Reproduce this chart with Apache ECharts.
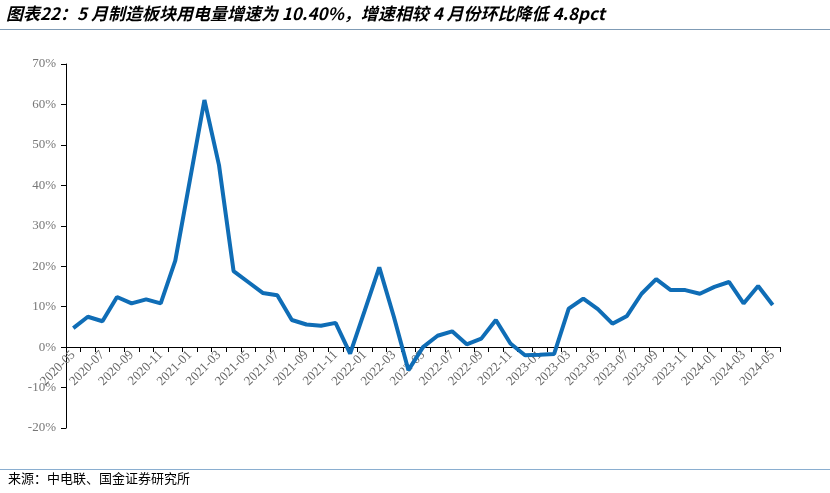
<!DOCTYPE html>
<html><head><meta charset="utf-8">
<script src="https://cdn.jsdelivr.net/npm/echarts@6/dist/echarts.min.js"></script>
<style>html,body{margin:0;padding:0;background:#fff}#c{width:830px;height:493px}</style>
</head><body><div id="c"></div>
<script>
const categories = [];
for (let y = 2020; y <= 2024; y++) for (let m = 1; m <= 12; m++) {
  if ((y === 2020 && m < 5) || (y === 2024 && m > 5)) continue;
  categories.push(y + '-' + String(m).padStart(2, '0'));
}
const growth = [4.7,7.5,6.4,12.4,10.8,11.8,10.8,21.4,41.2,61.1,45,18.8,16.1,13.4,12.8,6.7,5.6,5.3,6.0,-1.6,9.0,19.7,7.5,-5.7,0,2.8,3.9,0.7,2.1,6.7,0.9,-2.0,-1.9,-1.7,9.5,12.0,9.4,5.8,7.7,13.2,16.8,14.1,14.1,13.2,14.9,16.1,10.8,15.1,10.4];
const yTicks = {min: -20, max: 70, interval: 10};
const titleText = '图表22：5 月制造板块用电量增速为 10.40%，增速相较 4 月份环比降低 4.8pct';
const sourceText = '来源：中电联、国金证券研究所';

const chart = echarts.init(document.getElementById('c'));
chart.setOption({
  animation: false,
  graphic: [
    {type:'text', left: 6, top: 5, style:{text: titleText, font:'italic bold 17px "Noto Sans CJK SC"', fill:'#000'}},
    {type:'rect', shape:{x:0,y:29,width:830,height:1}, style:{fill:'#7f9bb5'}},
    {type:'rect', shape:{x:0,y:469,width:830,height:1}, style:{fill:'#8aaed0'}},
    {type:'text', left: 8, top: 472, style:{text: sourceText, font:'13px "Noto Sans CJK SC"', fill:'#000'}}
  ],
  grid: {left: 66, right: 50, top: 64, bottom: 65},
  xAxis: {
    type: 'category', data: categories, boundaryGap: true,
    axisLine: {onZero: false, lineStyle: {color: '#000', width: 1}},
    offset: -81,
    axisTick: {show: true, interval: 0, length: 5, lineStyle:{color:'#000'}},
    axisLabel: {interval: 1, rotate: 45, color: '#666', fontFamily: 'Liberation Serif', fontSize: 13, margin: 6}
  },
  yAxis: {
    type: 'value', min: yTicks.min, max: yTicks.max, interval: yTicks.interval,
    splitLine: {show: false},
    axisLine: {show: true, lineStyle: {color: '#000'}},
    axisTick: {show: true, length: 5, lineStyle:{color:'#000'}},
    axisLabel: {formatter: '{value}%', color: '#777', fontFamily: 'Liberation Serif', fontSize: 13, margin: 10}
  },
  series: [{
    type: 'line', data: growth, symbol: 'none', z: 5,
    lineStyle: {color: '#0f6db6', width: 4}
  }]
});
</script></body></html>
